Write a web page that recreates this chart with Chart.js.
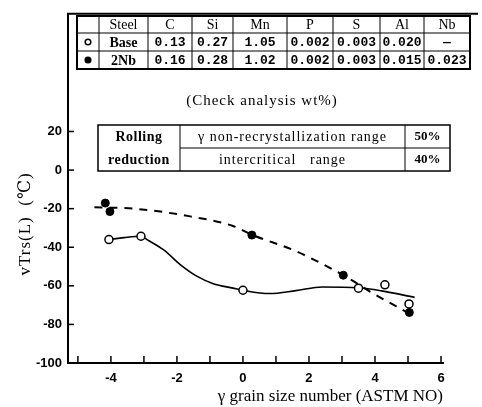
<!DOCTYPE html>
<html>
<head>
<meta charset="utf-8">
<script src="https://cdn.jsdelivr.net/npm/chart.js@4/dist/chart.umd.min.js"></script>
<style>
  html, body { margin: 0; padding: 0; background: #fff; }
  #wrap { width: 482px; height: 407px; }
</style>
</head>
<body>
<div id="wrap"><canvas id="grainChart"></canvas></div>
<script>
(function() {
    'use strict';

    // measured points
    const baseX = [-4.06, -3.09, 0, 3.5, 4.3, 5.03];
    const baseY = [-36, -34.3, -62.3, -61.2, -59.5, -69.4];
    const nbX = [-4.17, -4.03, 0.27, 3.04, 5.04];
    const nbY = [-17.1, -21.5, -33.7, -54.5, -73.8];

    // hand-drawn fitted curves
    const baseCurveX = [-4.06, -3.6, -3.09, -2.88, -2.4, -1.9, -1.4, -0.9, -0.3, 0, 0.8, 1.6, 2.4, 3.5, 4.2, 5.2];
    const baseCurveY = [-36, -35, -34.3, -36.3, -41.4, -49, -55, -58.9, -61.2, -62.3, -64, -62.5, -60.6, -61, -62.6, -66];
    const nbCurveX = [-4.5, -3.3, -1.6, -0.3, 0.27, 1.6, 3.04, 3.9, 5.0];
    const nbCurveY = [-19.3, -20, -24, -29, -33.5, -42, -54.5, -63.5, -74];

    const xTicks = [-4, -2, 0, 2, 4, 6];
    const xMinorTicks = [-5, -4, -3, -2, -1, 0, 1, 2, 3, 4, 5, 6];
    const yTicks = [-100, -80, -60, -40, -20, 0, 20];

    // chemistry table
    const tableHeader = ['', 'Steel', 'C', 'Si', 'Mn', 'P', 'S', 'Al', 'Nb'];
    const baseRow = ['open', 'Base', '0.13', '0.27', '1.05', '0.002', '0.003', '0.020', '—'];
    const nbRow = ['filled', '2Nb', '0.16', '0.28', '1.02', '0.002', '0.003', '0.015', '0.023'];

    // rolling table
    const rollingLabel = ['Rolling', 'reduction'];
    const rollingRanges = ['γ non-recrystallization range', 'intercritical   range'];
    const rollingValues = ['50%', '40%'];

    const serif = "'Liberation Serif', 'DejaVu Serif', serif";
    const sans = "'Liberation Sans', Arial, sans-serif";

    function toPoints(xs, ys) {
        return xs.map((x, i) => ({ x: x, y: ys[i] }));
    }

    function drawCircle(ctx, x, y, r, filled) {
        ctx.beginPath();
        ctx.arc(x, y, r, 0, Math.PI * 2);
        ctx.fillStyle = filled ? '#000' : '#fff';
        ctx.fill();
        ctx.lineWidth = 1.5;
        ctx.strokeStyle = '#000';
        ctx.stroke();
    }

    /**
     * Frame, inward ticks, tables and y title
     */
    const decorPlugin = {
        id: 'decor',
        afterDraw(chart) {
            const ctx = chart.ctx;
            const area = chart.chartArea;
            const xs = chart.scales.x;
            const ys = chart.scales.y;
            ctx.save();

            // top frame line
            ctx.strokeStyle = '#000';
            ctx.lineWidth = 2;
            ctx.beginPath();
            ctx.moveTo(area.left - 1, area.top);
            ctx.lineTo(chart.width - 4, area.top);
            ctx.stroke();

            // inward ticks
            ctx.lineWidth = 1.5;
            xMinorTicks.forEach(v => {
                const px = xs.getPixelForValue(v);
                ctx.beginPath();
                ctx.moveTo(px, area.bottom);
                ctx.lineTo(px, area.bottom - 7);
                ctx.stroke();
            });
            yTicks.forEach(v => {
                const py = ys.getPixelForValue(v);
                ctx.beginPath();
                ctx.moveTo(area.left, py);
                ctx.lineTo(area.left + 6, py);
                ctx.stroke();
            });

            // chemistry table
            const colEdges = [77, 99, 148, 192, 233, 287, 333, 380, 424, 470];
            const rowEdges = [16, 33, 51, 69];
            ctx.lineWidth = 1;
            colEdges.forEach(cx => {
                ctx.beginPath();
                ctx.moveTo(cx, rowEdges[0]);
                ctx.lineTo(cx, rowEdges[3]);
                ctx.stroke();
            });
            rowEdges.forEach(ry => {
                ctx.beginPath();
                ctx.moveTo(colEdges[0], ry);
                ctx.lineTo(colEdges[9], ry);
                ctx.stroke();
            });
            ctx.lineWidth = 2;
            ctx.strokeRect(colEdges[0], rowEdges[0], colEdges[9] - colEdges[0], rowEdges[3] - rowEdges[0]);

            ctx.fillStyle = '#000';
            ctx.textAlign = 'center';
            ctx.textBaseline = 'middle';
            [tableHeader, baseRow, nbRow].forEach((row, r) => {
                const cy = (rowEdges[r] + rowEdges[r + 1]) / 2 + 1;
                row.forEach((cell, c) => {
                    const cx = (colEdges[c] + colEdges[c + 1]) / 2;
                    if (cell === 'open' || cell === 'filled') {
                        drawCircle(ctx, cx, cy - 1, 2.8, cell === 'filled');
                        return;
                    }
                    ctx.fillStyle = '#000';
                    if (c >= 2 && r > 0) {
                        ctx.font = 'bold 13px ' + "'Liberation Mono', monospace";
                    } else {
                        ctx.font = (r === 0 ? '' : 'bold ') + '14px ' + serif;
                    }
                    ctx.fillText(cell, cx, cy);
                });
            });
            ctx.font = '15px ' + serif;
            ctx.letterSpacing = '1px';
            ctx.fillText('(Check analysis wt%)', 262, 101);

            // rolling reduction table
            const rx = [98, 180, 405, 450];
            const ry = [125, 148, 171];
            ctx.lineWidth = 1.5;
            ctx.strokeRect(rx[0], ry[0], rx[3] - rx[0], ry[2] - ry[0]);
            ctx.lineWidth = 1;
            [rx[1], rx[2]].forEach(cx => {
                ctx.beginPath();
                ctx.moveTo(cx, ry[0]);
                ctx.lineTo(cx, ry[2]);
                ctx.stroke();
            });
            ctx.beginPath();
            ctx.moveTo(rx[1], ry[1]);
            ctx.lineTo(rx[3], ry[1]);
            ctx.stroke();

            ctx.letterSpacing = '0.5px';
            ctx.font = 'bold 14px ' + serif;
            ctx.fillText(rollingLabel[0], (rx[0] + rx[1]) / 2, 137);
            ctx.fillText(rollingLabel[1], (rx[0] + rx[1]) / 2, 160);
            ctx.letterSpacing = '1px';
            ctx.font = '14px ' + serif;
            ctx.fillText(rollingRanges[0], (rx[1] + rx[2]) / 2, 137);
            ctx.fillText(rollingRanges[1], (rx[1] + rx[2]) / 2 - 10, 160);
            ctx.letterSpacing = '0px';
            ctx.font = 'bold 13px ' + serif;
            ctx.fillText(rollingValues[0], (rx[2] + rx[3]) / 2, 137);
            ctx.fillText(rollingValues[1], (rx[2] + rx[3]) / 2, 160);

            // y axis title
            ctx.translate(26, 224);
            ctx.rotate(-Math.PI / 2);
            ctx.font = '17px ' + serif;
            ctx.letterSpacing = '1px';
            ctx.fillText('vTrs(L)  (℃)', 0, 0);

            ctx.restore();
        }
    };

    document.addEventListener('DOMContentLoaded', function() {
        const ctx = document.getElementById('grainChart');

        new Chart(ctx, {
            type: 'scatter',
            data: {
                datasets: [{
                    label: 'Base curve',
                    data: toPoints(baseCurveX, baseCurveY),
                    showLine: true,
                    borderColor: '#000',
                    borderWidth: 1.6,
                    pointRadius: 0,
                    cubicInterpolationMode: 'monotone',
                    order: 3
                }, {
                    label: '2Nb curve',
                    data: toPoints(nbCurveX, nbCurveY),
                    showLine: true,
                    borderColor: '#000',
                    borderWidth: 2,
                    borderDash: [8, 7],
                    pointRadius: 0,
                    cubicInterpolationMode: 'monotone',
                    order: 3
                }, {
                    label: 'Base',
                    data: toPoints(baseX, baseY),
                    pointRadius: 4,
                    pointBackgroundColor: '#fff',
                    pointBorderColor: '#000',
                    pointBorderWidth: 1.5,
                    order: 1
                }, {
                    label: '2Nb',
                    data: toPoints(nbX, nbY),
                    pointRadius: 4,
                    pointBackgroundColor: '#000',
                    pointBorderColor: '#000',
                    pointBorderWidth: 1,
                    order: 1
                }]
            },
            options: {
                responsive: true,
                maintainAspectRatio: false,
                animation: false,
                layout: {
                    padding: { left: 0, top: 8, right: 39, bottom: 0 }
                },
                plugins: {
                    legend: { display: false },
                    tooltip: { enabled: false }
                },
                scales: {
                    x: {
                        type: 'linear',
                        min: -5.3,
                        max: 6.06,
                        afterBuildTicks: function(scale) {
                            scale.ticks = xTicks.map(v => ({ value: v }));
                        },
                        afterFit: function(scale) {
                            scale.height = 44;
                        },
                        grid: { display: false, drawTicks: false },
                        border: { color: '#000', width: 2 },
                        ticks: {
                            padding: 8,
                            color: '#000',
                            font: { family: sans, size: 13, weight: 'bold' }
                        },
                        title: {
                            display: true,
                            text: 'γ grain size number (ASTM NO)',
                            align: 'end',
                            color: '#000',
                            padding: { top: 1, bottom: 0 },
                            font: { family: serif, size: 17 }
                        }
                    },
                    y: {
                        min: -100,
                        max: 81,
                        afterBuildTicks: function(scale) {
                            scale.ticks = yTicks.map(v => ({ value: v }));
                        },
                        afterFit: function(scale) {
                            scale.width = 68;
                        },
                        grid: { display: false, drawTicks: false },
                        border: { color: '#000', width: 2 },
                        ticks: {
                            padding: 6,
                            color: '#000',
                            font: { family: sans, size: 13, weight: 'bold' }
                        }
                    }
                }
            },
            plugins: [decorPlugin]
        });
    });
})();
</script>
</body>
</html>
